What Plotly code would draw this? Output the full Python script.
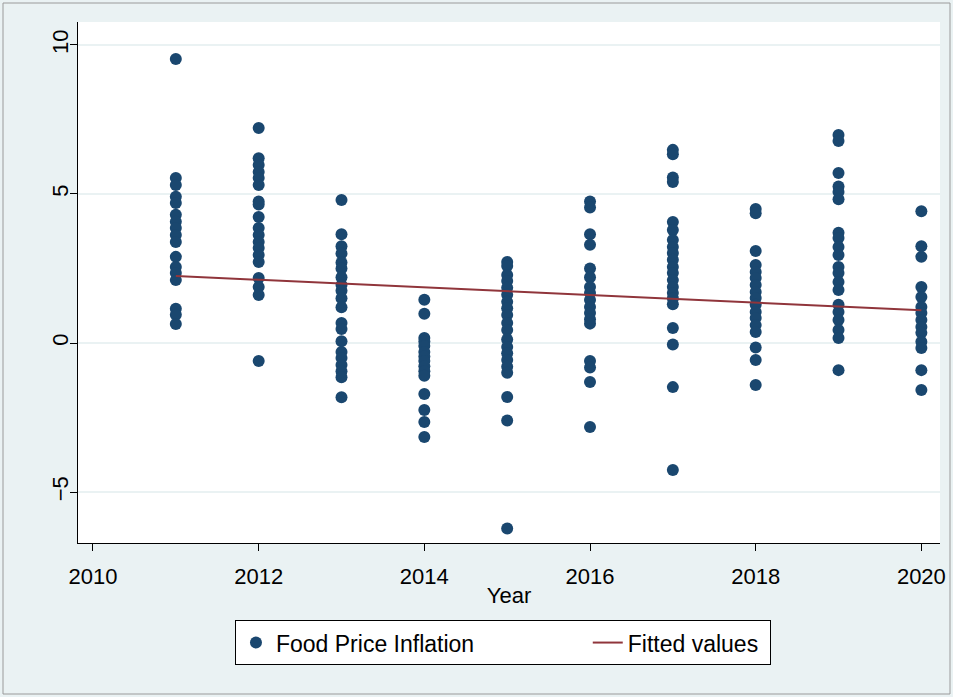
import plotly.graph_objects as go

# ---- data ----
years = [2011, 2012, 2013, 2014, 2015, 2016, 2017, 2018, 2019, 2020]
infl_2011 = [9.53, 5.54, 5.30, 4.91, 4.70, 4.30, 4.07, 3.86, 3.62, 3.39, 2.89, 2.55, 2.35, 2.11, 1.15, 0.95, 0.64]
infl_2012 = [7.21, 6.20, 5.97, 5.74, 5.54, 5.30, 4.75, 4.65, 4.23, 3.86, 3.62, 3.39, 3.19, 2.95, 2.72, 2.18, 1.88, 1.61, -0.60]
infl_2013 = [4.80, 3.65, 3.25, 3.00, 2.70, 2.50, 2.21, 1.95, 1.75, 1.50, 1.20, 0.67, 0.47, 0.06, -0.30, -0.50, -0.74, -0.95, -1.15, -1.82]
infl_2014 = [1.45, 0.98, 0.17, 0.05, -0.10, -0.30, -0.45, -0.60, -0.78, -0.95, -1.10, -1.71, -2.25, -2.65, -3.15]
infl_2015 = [2.72, 2.58, 2.28, 2.08, 1.85, 1.62, 1.38, 1.17, 0.94, 0.67, 0.44, 0.12, -0.13, -0.34, -0.57, -0.80, -1.00, -1.81, -2.60, -6.22]
infl_2016 = [4.75, 4.55, 3.65, 3.30, 2.50, 2.21, 1.88, 1.68, 1.44, 1.21, 1.01, 0.80, 0.65, -0.60, -0.82, -1.31, -2.82]
infl_2017 = [6.48, 6.33, 5.55, 5.40, 4.06, 3.79, 3.46, 3.22, 3.02, 2.79, 2.55, 2.35, 2.11, 1.88, 1.68, 1.50, 1.30, 0.50, -0.05, -1.48, -4.26]
infl_2018 = [4.50, 4.35, 3.09, 2.62, 2.38, 2.18, 1.95, 1.71, 1.51, 1.28, 1.04, 0.84, 0.60, 0.37, -0.15, -0.57, -1.41]
infl_2019 = [6.98, 6.78, 5.70, 5.25, 5.07, 4.82, 3.70, 3.52, 3.22, 2.95, 2.55, 2.35, 2.05, 1.78, 1.28, 1.04, 0.77, 0.44, 0.17, -0.91]
infl_2020 = [4.42, 3.25, 2.89, 1.88, 1.54, 1.21, 1.01, 0.77, 0.54, 0.34, 0.04, -0.17, -0.91, -1.58]
inflation_by_year = [infl_2011, infl_2012, infl_2013, infl_2014, infl_2015,
                     infl_2016, infl_2017, infl_2018, infl_2019, infl_2020]

fit_years = [2011, 2020]
fit_values = [2.25, 1.10]

x_ticks = [2010, 2012, 2014, 2016, 2018, 2020]
y_ticks = [-5, 0, 5, 10]

# ---- build ----
xs, ys = [], []
for yr, vals in zip(years, inflation_by_year):
    xs.extend([yr] * len(vals))
    ys.extend(vals)

NAVY = "#1A476F"
MAROON = "#90353B"
BG = "#EAF2F3"
FONT = "Liberation Sans, Arial, sans-serif"
PAD = "\u00a0" * 17
Y_RANGE = [-6.71, 10.77]

fig = go.Figure()
fig.add_trace(go.Scatter(
    x=xs, y=ys, mode="markers", name="Food Price Inflation" + PAD,
    marker=dict(color=NAVY, size=12, line=dict(width=0)),
))
fig.add_trace(go.Scatter(
    x=fit_years, y=fit_values, mode="lines", name="Fitted values\u00a0",
    line=dict(color=MAROON, width=2),
))

fig.update_layout(
    width=953, height=697,
    margin=dict(l=78, r=13, t=22, b=154, autoexpand=False),
    paper_bgcolor=BG, plot_bgcolor="white",
    font=dict(family=FONT, size=22, color="black"),
    showlegend=True,
    legend=dict(
        orientation="h", x=0.493, xanchor="center", y=-0.148, yanchor="top",
        bgcolor="white", bordercolor="black", borderwidth=1,
        font=dict(size=23), itemwidth=30,
    ),
    xaxis=dict(
        range=[2009.819, 2020.225], tickvals=x_ticks,
        showline=True, linecolor="black", linewidth=1.2,
        ticks="outside", ticklen=7, tickcolor="black", tickwidth=1.2,
        showgrid=False, zeroline=False, ticklabelstandoff=6,
        title=dict(text="Year", font=dict(size=22), standoff=0),
    ),
    yaxis=dict(
        range=Y_RANGE, tickvals=y_ticks, showticklabels=False,
        showline=True, linecolor="black", linewidth=1.2,
        ticks="outside", ticklen=7, tickcolor="black", tickwidth=1.2,
        showgrid=True, gridcolor=BG, gridwidth=2, zeroline=False,
    ),
    # label-only axis so the rotated labels sit close to the ticks
    yaxis2=dict(
        range=Y_RANGE, tickvals=y_ticks, tickangle=-90, overlaying="y", side="left",
        showline=False, ticks="", ticklen=0, showgrid=False, zeroline=False,
        ticklabelstandoff=5,
    ),
)
# invisible trace to activate the label axis
fig.add_trace(go.Scatter(x=[fit_years[0]], y=[fit_values[0]], yaxis="y2", mode="markers",
                         marker=dict(opacity=0), showlegend=False, hoverinfo="skip"))

# outer image border
fig.add_shape(type="rect", xref="paper", yref="paper",
              x0=(3 - 78) / 862, x1=(950 - 78) / 862,
              y0=(543 - 694) / 521, y1=(543 - 3) / 521,
              line=dict(color="#9a9a9a", width=1), fillcolor="rgba(0,0,0,0)", layer="below")

fig.write_html("out.html")
